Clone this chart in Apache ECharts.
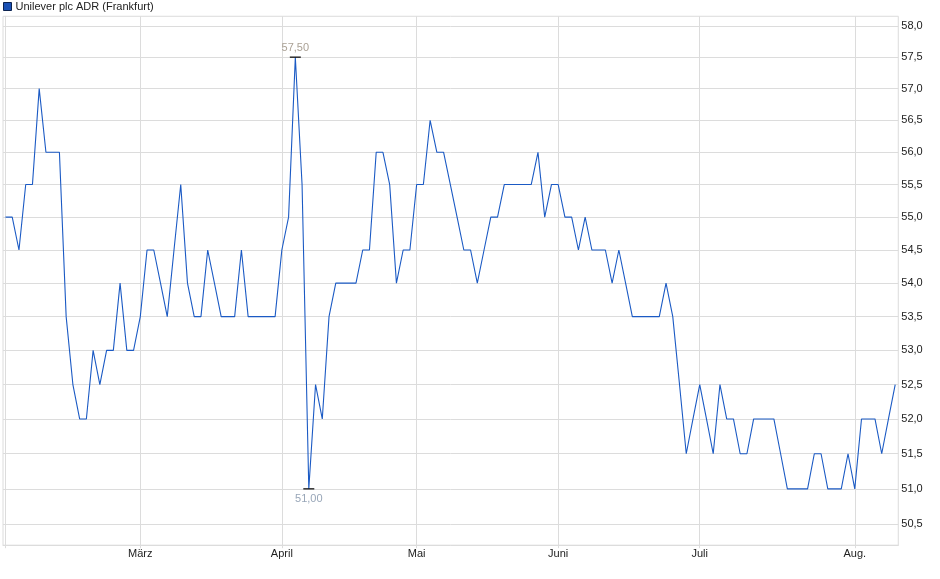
<!DOCTYPE html>
<html>
<head>
<meta charset="utf-8">
<script src="https://cdn.jsdelivr.net/npm/echarts@6/dist/echarts.min.js"></script>
<style>
  html, body { margin: 0; padding: 0; background: #ffffff; }
  #chart { width: 940px; height: 579px; }
</style>
</head>
<body>
<div id="chart"></div>
<script>
// Trading days (Frankfurt) per month, 2025
const year = 2025;
const tradingDaysByMonth = [
  [2, [3,4,5,6,7,10,11,12,13,14,17,18,19,20,21,24,25,26,27,28]],
  [3, [3,4,5,6,7,10,11,12,13,14,17,18,19,20,21,24,25,26,27,28,31]],
  [4, [1,2,3,4,7,8,9,10,11,14,15,16,17,22,23,24,25,28,29,30]],
  [5, [2,5,6,7,8,9,12,13,14,15,16,19,20,21,22,23,26,27,28,29,30]],
  [6, [2,3,4,5,6,9,10,11,12,13,16,17,18,19,20,23,24,25,26,27,30]],
  [7, [1,2,3,4,7,8,9,10,11,14,15,16,17,18,21,22,23,24,25,28,29,30,31]],
  [8, [1,4,5,6,7,8,11]]
];

// Month tick labels (German); February start is gridded but unlabeled
const monthLabels = { 2: '', 3: 'März', 4: 'April', 5: 'Mai', 6: 'Juni', 7: 'Juli', 8: 'Aug.' };

// Closing prices (EUR)
const prices = [
  55.0, 55.0, 54.5, 55.5, 55.5, 57.0, 56.0, 56.0, 56.0, 53.5,
  52.5, 52.0, 52.0, 53.0, 52.5, 53.0, 53.0, 54.0, 53.0, 53.0,
  53.5, 54.5, 54.5, 54.0, 53.5, 54.5, 55.5, 54.0, 53.5, 53.5,
  54.5, 54.0, 53.5, 53.5, 53.5, 54.5, 53.5, 53.5, 53.5, 53.5,
  53.5, 54.5, 55.0, 57.5, 55.5, 51.0, 52.5, 52.0, 53.5, 54.0,
  54.0, 54.0, 54.0, 54.5, 54.5, 56.0, 56.0, 55.5, 54.0, 54.5,
  54.5, 55.5, 55.5, 56.5, 56.0, 56.0, 55.5, 55.0, 54.5, 54.5,
  54.0, 54.5, 55.0, 55.0, 55.5, 55.5, 55.5, 55.5, 55.5, 56.0,
  55.0, 55.5, 55.5, 55.0, 55.0, 54.5, 55.0, 54.5, 54.5, 54.5,
  54.0, 54.5, 54.0, 53.5, 53.5, 53.5, 53.5, 53.5, 54.0, 53.5,
  52.5, 51.5, 52.0, 52.5, 52.0, 51.5, 52.5, 52.0, 52.0, 51.5,
  51.5, 52.0, 52.0, 52.0, 52.0, 51.5, 51.0, 51.0, 51.0, 51.0,
  51.5, 51.5, 51.0, 51.0, 51.0, 51.5, 51.0, 52.0, 52.0, 52.0,
  51.5, 52.0, 52.5
];

// Y-axis tick labels
const yTicks = [50.5, 51.0, 51.5, 52.0, 52.5, 53.0, 53.5, 54.0, 54.5, 55.0, 55.5, 56.0, 56.5, 57.0, 57.5, 58.0];

const seriesName = 'Unilever plc ADR (Frankfurt)';

// ---- build categories (dates) and month-start positions ----
const categories = [];
const monthOfIndex = [];
tradingDaysByMonth.forEach(([m, days]) => {
  days.forEach(d => {
    categories.push(year + '-' + String(m).padStart(2, '0') + '-' + String(d).padStart(2, '0'));
    monthOfIndex.push(m);
  });
});
const monthStarts = [];
const labelAt = {};
monthOfIndex.forEach((m, i) => {
  if (i === 0 || monthOfIndex[i - 1] !== m) {
    monthStarts.push(i);
    labelAt[i] = monthLabels[m];
  }
});
const labelStarts = monthStarts.filter(i => labelAt[i] !== '');

const seriesData = prices.map((v, i) => [i, v]);

const fmt1 = v => v.toFixed(1).replace('.', ',');
const fmt2 = v => v.toFixed(2).replace('.', ',');

const chart = echarts.init(document.getElementById('chart'), null, { renderer: 'canvas' });
const FONT = '"Liberation Sans", Arial, sans-serif';
const GRID = '#dcdcdc';

chart.setOption({
  animation: false,
  backgroundColor: '#ffffff',
  textStyle: { fontFamily: FONT },
  legend: {
    left: 0,
    top: -1,
    padding: [2, 2, 2, 3],
    itemWidth: 8,
    itemHeight: 8,
    itemGap: 10,
    icon: 'rect',
    selectedMode: false,
    data: [{
      name: seriesName,
      itemStyle: { color: '#1a50b4', borderColor: '#0c2350', borderWidth: 1 }
    }],
    textStyle: { fontSize: 11, color: '#222222', fontFamily: FONT, padding: [0, 0, 0, -1] }
  },
  grid: {
    left: 3,
    right: 41.7,
    top: 16.3,
    bottom: 33.8,
    show: true,
    borderColor: GRID,
    borderWidth: 1,
    containLabel: false
  },
  xAxis: {
    type: 'value',
    min: -0.37,
    max: prices.length - 1 + 0.46,
    axisLine: { show: true, lineStyle: { color: GRID } },
    axisTick: { show: true, length: 3, lineStyle: { color: GRID }, customValues: monthStarts },
    splitLine: { show: true, lineStyle: { color: GRID, width: 1 } },
    axisLabel: {
      customValues: labelStarts,
      formatter: v => labelAt[Math.round(v)] || '',
      fontSize: 11,
      color: '#222222',
      margin: 3,
      fontFamily: FONT
    }
  },
  yAxis: {
    type: 'log',
    logBase: 10,
    position: 'right',
    min: 50.2076,
    max: 58.1566,
    axisLine: { show: true, lineStyle: { color: GRID } },
    axisTick: { show: true, length: 3, lineStyle: { color: GRID }, customValues: yTicks },
    splitLine: { show: true, lineStyle: { color: GRID, width: 1 } },
    axisLabel: {
      customValues: yTicks,
      formatter: v => fmt1(v),
      fontSize: 11,
      color: '#222222',
      margin: 3,
      fontFamily: FONT
    }
  },
  series: [{
    name: seriesName,
    type: 'line',
    data: seriesData,
    showSymbol: false,
    symbol: 'none',
    color: '#1a50b4',
    lineStyle: { color: '#1b5ac4', width: 1.1 },
    emphasis: { disabled: true },
    markPoint: {
      symbol: 'rect',
      symbolSize: [11, 1.3],
      itemStyle: { color: '#111111' },
      animation: false,
      data: [
        {
          type: 'max', valueDim: 'y',
          label: { show: true, position: 'top', distance: 3, formatter: p => fmt2(p.value), color: '#aaa195', fontSize: 11, fontFamily: FONT }
        },
        {
          type: 'min', valueDim: 'y',
          label: { show: true, position: 'bottom', distance: 4, formatter: p => fmt2(p.value), color: '#98a6b8', fontSize: 11, fontFamily: FONT }
        }
      ]
    }
  }]
});
</script>
</body>
</html>
